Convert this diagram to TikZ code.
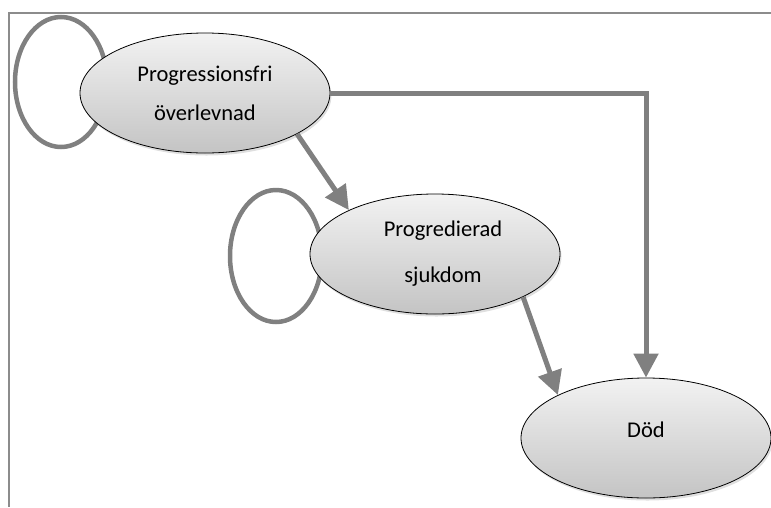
\documentclass[tikz,border=0pt]{standalone}
\usepackage{fontspec}
\setmainfont{Carlito}
\usetikzlibrary{arrows.meta,shadows,backgrounds,shapes.geometric}
\definecolor{linegray}{HTML}{808080}
\definecolor{framegray}{HTML}{8C8C8C}
\definecolor{topfill}{HTML}{F2F2F2}
\definecolor{botfill}{HTML}{C4C4C4}
\begin{document}
\begin{tikzpicture}[x=1pt,y=-1pt,
  state/.style={ellipse, draw=black, line width=0.8pt, minimum width=250pt, minimum height=120pt,
    inner sep=0pt, top color=topfill, bottom color=botfill,
    drop shadow={shadow xshift=1.5pt, shadow yshift=-2.5pt, opacity=0.25},
    align=center},
  flow/.style={draw=linegray, line width=5pt, -{Triangle[width=24pt,length=24pt]}},
  selfloop/.style={draw=linegray, line width=4.5pt},
  frame/.style={draw=framegray, line width=2pt}]
\useasboundingbox (0,0) rectangle (771,507);
\coordinate (ftl) at (9,13);
\coordinate (ftr) at (771,13);
\coordinate (fbl) at (9,507);
\draw[frame] (ftr) -- (ftl) -- (fbl);
\node[state, font=\fontsize{22.5}{39}\selectfont] (e1) at (205,93) {Progressionsfri\\överlevnad};
\node[state, font=\fontsize{22.5}{46}\selectfont] (e2) at (435,254) {\hspace*{16pt}Progredierad\\\hspace*{16pt}sjukdom};
\node[state, font=\fontsize{22.5}{27}\selectfont] (e3) at (646,438) {Död\\[-11pt]};
\begin{pgfonlayer}{background}
  \draw[selfloop] ([xshift=-144pt,yshift=11pt]e1.center) ellipse [x radius=46pt, y radius=65pt];
  \draw[selfloop] ([xshift=-159pt,yshift=-2pt]e2.center) ellipse [x radius=46pt, y radius=66pt];
\end{pgfonlayer}
\draw[flow] (e1.-24) -- (e2.153);
\draw[flow] (e1.east) -| (e3.north);
\draw[flow] (e2.-26) -- (e3.154);
\end{tikzpicture}
\end{document}
